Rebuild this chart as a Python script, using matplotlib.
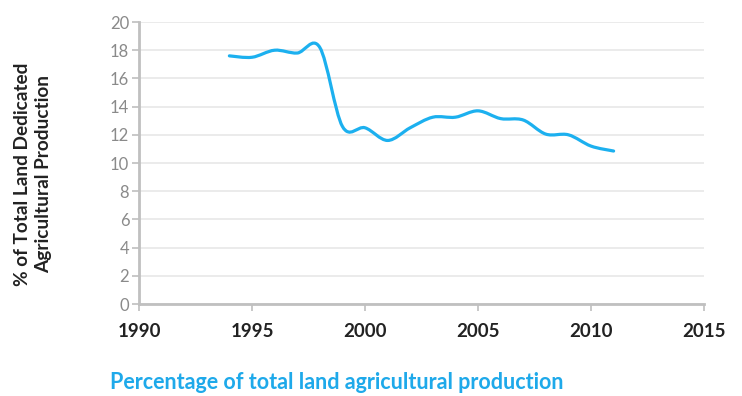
import numpy as np
import matplotlib
matplotlib.use("Agg")
import matplotlib.pyplot as plt
from matplotlib.path import Path
from matplotlib.patches import PathPatch

plt.rcParams['font.family'] = ['Lato', 'DejaVu Sans']

years = [1994, 1995, 1996, 1997, 1998, 1999, 2000, 2001, 2002, 2003, 2004, 2005,
         2006, 2007, 2008, 2009, 2010, 2011]
values = [17.6, 17.5, 18.0, 17.8, 18.2, 12.6, 12.5, 11.6, 12.5, 13.25, 13.25, 13.7,
          13.15, 13.05, 12.05, 12.0, 11.2, 10.85]
x_ticks = [1990, 1995, 2000, 2005, 2010, 2015]
y_ticks = [0, 2, 4, 6, 8, 10, 12, 14, 16, 18, 20]

line_color = '#1cb0ef'
title_color = '#1ea9ea'

fig = plt.figure(figsize=(7.42, 3.96), dpi=100)
ax = fig.add_axes([0.1873, 0.2323, 0.7615, 0.7121])

# smoothed line (Catmull-Rom -> cubic Bezier), like spreadsheet smoothing
x = np.array(years, dtype=float)
y = np.array(values, dtype=float)
verts = [(x[0], y[0])]
codes = [Path.MOVETO]
n = len(x)
for i in range(n - 1):
    p0 = (x[i - 1], y[i - 1]) if i > 0 else (x[i], y[i])
    p1 = (x[i], y[i])
    p2 = (x[i + 1], y[i + 1])
    p3 = (x[i + 2], y[i + 2]) if i + 2 < n else (x[i + 1], y[i + 1])
    c1 = (p1[0] + (p2[0] - p0[0]) / 6, p1[1] + (p2[1] - p0[1]) / 6)
    c2 = (p2[0] - (p3[0] - p1[0]) / 6, p2[1] - (p3[1] - p1[1]) / 6)
    verts += [c1, c2, p2]
    codes += [Path.CURVE4] * 3
ax.add_patch(PathPatch(Path(verts, codes), facecolor='none', edgecolor=line_color,
                       lw=2.3, capstyle='round', joinstyle='round', zorder=3))

ax.set_xlim(1990, 2015)
ax.set_ylim(0, 20)
ax.set_xticks(x_ticks)
ax.set_yticks(y_ticks)
ax.set_xticklabels([str(t) for t in x_ticks], fontsize=13.5, fontweight='bold', color='#222222')
ax.set_yticklabels([str(t) for t in y_ticks], fontsize=12, color='#8a8a8a')
ax.tick_params(axis='x', length=5, width=1.2, color='#bfbfbf', pad=9)
ax.tick_params(axis='y', length=5, width=1.2, color='#bfbfbf', pad=2)

ax.grid(axis='y', color='#e8e8e8', lw=1.2)
ax.set_axisbelow(True)
for s in ['top', 'right']:
    ax.spines[s].set_visible(False)
for s in ['left', 'bottom']:
    ax.spines[s].set_color('#c0c0c0')
    ax.spines[s].set_linewidth(2)

fig.text(0.0445, 0.56, '% of Total Land Dedicated\nAgricultural Production', rotation=90,
         ha='center', va='center', fontsize=13.7, fontweight='bold', color='#222222',
         linespacing=1.3)

fig.text(0.148, 0.018, 'Percentage of total land agricultural production', ha='left',
         va='baseline', fontsize=15.5, fontweight='bold', color=title_color)

fig.savefig('out.png', dpi=100)
